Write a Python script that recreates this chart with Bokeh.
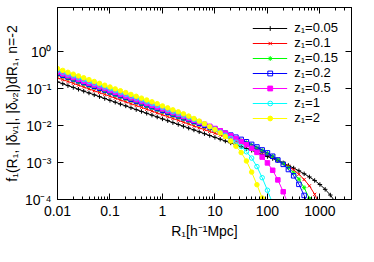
from bokeh.plotting import figure
from bokeh.models import (FixedTicker, CustomJSTickFormatter, LogAxis, Legend,
                          LegendItem, Range1d)
from bokeh.embed import file_html
from bokeh.resources import INLINE

# x grid (R1 in h^-1 Mpc)
R1 = [0.01, 0.0126, 0.0158, 0.02, 0.0251, 0.0316, 0.0398, 0.0501, 0.0631, 0.0794,
      0.1, 0.126, 0.158, 0.2, 0.251, 0.316, 0.398, 0.501, 0.631, 0.794,
      1, 1.26, 1.58, 2.0, 2.51, 3.16, 3.98, 5.01, 6.31, 7.94,
      10, 12.6, 15.8, 20.0, 25.1, 31.6, 39.8, 50.1, 63.1, 79.4,
      100, 126, 158, 200, 251, 316, 398, 501, 631, 794,
      1000, 1260, 1580, 2000]

F_Z005 = [0.151, 0.135, 0.120, 0.107, 0.0955, 0.0851, 0.0759, 0.0676, 0.0603, 0.0537,
          0.0479, 0.0427, 0.0380, 0.0339, 0.0302, 0.0269, 0.0240, 0.0214, 0.0191, 0.0170,
          0.0151, 0.0135, 0.0120, 0.0107, 0.00955, 0.00851, 0.00759, 0.00676, 0.00603, 0.00537,
          0.00479, 0.00427, 0.00380, 0.00339, 0.00302, 0.00269, 0.00240, 0.00214, 0.00186, 0.00164,
          0.00145, 0.00128, 0.00112, 0.000973, 0.000832, 0.000708, 0.000596, 0.000495, 0.000407, 0.000327,
          0.000254, 0.000188, 0.000132, 0.0000832]
F_Z01 = [0.195, 0.174, 0.155, 0.138, 0.123, 0.110, 0.0977, 0.0871, 0.0776, 0.0692,
         0.0617, 0.0550, 0.0490, 0.0437, 0.0389, 0.0347, 0.0309, 0.0275, 0.0245, 0.0219,
         0.0195, 0.0174, 0.0155, 0.0138, 0.0123, 0.0110, 0.00977, 0.00871, 0.00776, 0.00692,
         0.00617, 0.00550, 0.00490, 0.00427, 0.00378, 0.00334, 0.00295, 0.00260, 0.00226, 0.00195,
         0.00166, 0.00141, 0.00117, 0.000977, 0.000794, 0.000631, 0.000479, 0.000347, 0.000234, 0.000138,
         0.0000692]
F_Z015 = [0.234, 0.209, 0.186, 0.166, 0.148, 0.132, 0.117, 0.105, 0.0933, 0.0832,
          0.0741, 0.0661, 0.0589, 0.0525, 0.0468, 0.0417, 0.0372, 0.0331, 0.0295, 0.0263,
          0.0234, 0.0209, 0.0186, 0.0166, 0.0148, 0.0132, 0.0117, 0.0105, 0.00933, 0.00832,
          0.00741, 0.00646, 0.00571, 0.00506, 0.00447, 0.00394, 0.00343, 0.00295, 0.00251, 0.00214,
          0.00178, 0.00148, 0.00120, 0.000955, 0.000724, 0.000525, 0.000355, 0.000209, 0.000105, 0.0000479]
F_Z02 = [0.257, 0.229, 0.204, 0.182, 0.162, 0.145, 0.129, 0.115, 0.102, 0.0912,
         0.0813, 0.0724, 0.0646, 0.0575, 0.0513, 0.0457, 0.0407, 0.0363, 0.0324, 0.0288,
         0.0257, 0.0229, 0.0204, 0.0182, 0.0162, 0.0145, 0.0129, 0.0115, 0.0102, 0.00912,
         0.00794, 0.00703, 0.00622, 0.00550, 0.00484, 0.00422, 0.00363, 0.00309, 0.00263, 0.00219,
         0.00182, 0.00148, 0.00117, 0.000891, 0.000646, 0.000437, 0.000257, 0.000129, 0.0000589]
F_Z05 = [0.282, 0.251, 0.224, 0.200, 0.178, 0.158, 0.141, 0.126, 0.112, 0.100,
         0.0891, 0.0794, 0.0708, 0.0631, 0.0562, 0.0501, 0.0447, 0.0398, 0.0355, 0.0316,
         0.0282, 0.0251, 0.0224, 0.0200, 0.0178, 0.0155, 0.0138, 0.0122, 0.0108, 0.00951,
         0.00832, 0.00721, 0.00617, 0.00525, 0.00442, 0.00367, 0.00302, 0.00243, 0.00188, 0.00140,
         0.000977, 0.000617, 0.000339, 0.000162, 0.0000708]
F_Z1 = [0.309, 0.275, 0.245, 0.219, 0.195, 0.174, 0.155, 0.138, 0.123, 0.110,
        0.0977, 0.0871, 0.0776, 0.0692, 0.0617, 0.0550, 0.0490, 0.0437, 0.0389, 0.0347,
        0.0309, 0.0270, 0.0240, 0.0212, 0.0188, 0.0166, 0.0146, 0.0127, 0.0110, 0.00933,
        0.00794, 0.00661, 0.00550, 0.00447, 0.00355, 0.00269, 0.00195, 0.00132, 0.000776, 0.000389,
        0.000178, 0.0000776]
F_Z2 = [0.347, 0.309, 0.275, 0.245, 0.219, 0.195, 0.174, 0.155, 0.138, 0.123,
        0.110, 0.0977, 0.0871, 0.0776, 0.0692, 0.0617, 0.0550, 0.0490, 0.0437, 0.0389,
        0.0339, 0.0300, 0.0265, 0.0234, 0.0207, 0.0180, 0.0155, 0.0132, 0.0112, 0.00933,
        0.00776, 0.00631, 0.00501, 0.00380, 0.00275, 0.00186, 0.00110, 0.000550, 0.000251, 0.000110,
        0.0000457]

LABELS = ["z₁=0.05", "z₁=0.1", "z₁=0.15", "z₁=0.2", "z₁=0.5", "z₁=1", "z₁=2"]
VALUES = [F_Z005, F_Z01, F_Z015, F_Z02, F_Z05, F_Z1, F_Z2]
COLORS = ["#000000", "#ff0000", "#00ff00", "#0000ff", "#ff00ff", "#00ffff", "#ffff00"]
MARKERS = ["cross", "x", "asterisk", "square", "square", "circle", "circle"]
FILLED = [False, False, False, False, True, False, True]

X_TICKS = [0.01, 0.1, 1, 10, 100, 1000]
X_TICK_LABELS = ["0.01", "0.1", "1", "10", "100", "1000"]
Y_TICKS = [1e-4, 1e-3, 1e-2, 1e-1, 1]
Y_TICK_LABELS = ["10⁻⁴", "10⁻³", "10⁻²", "10⁻¹", "10⁰"]

FONT = "Liberation Sans"

p = figure(frame_width=294, frame_height=192,
           x_axis_type="log", y_axis_type="log",
           x_range=Range1d(0.01, 4000), y_range=Range1d(1e-4, 15.5),
           output_backend="svg", toolbar_location=None,
           min_border_left=48, min_border_right=16, min_border_top=7, min_border_bottom=44)
p.grid.visible = False
p.outline_line_color = "black"
p.outline_line_width = 1
p.background_fill_color = "white"

x_minor = []
for d in X_TICKS:
    for m in range(2, 10):
        x_minor.append(d * m)
xticker = FixedTicker(ticks=X_TICKS, minor_ticks=x_minor)
yticker = FixedTicker(ticks=Y_TICKS, minor_ticks=[])

JS = """
let best = 0, bd = 1e9;
for (let i = 0; i < tvals.length; i++) {
  const d = Math.abs(Math.log10(tvals[i]) - Math.log10(tick));
  if (d < bd) { bd = d; best = i; }
}
return labs[best];
"""
xfmt = CustomJSTickFormatter(args=dict(tvals=X_TICKS, labs=X_TICK_LABELS), code=JS)
yfmt = CustomJSTickFormatter(args=dict(tvals=Y_TICKS, labs=Y_TICK_LABELS), code=JS)
blank = CustomJSTickFormatter(code="return '';")

def style_axis(ax, ticker, fmt, show_labels):
    ax.ticker = ticker
    ax.major_tick_in = 6
    ax.major_tick_out = 0
    ax.minor_tick_in = 3
    ax.minor_tick_out = 0
    ax.axis_line_color = "black"
    ax.major_tick_line_color = "black"
    ax.minor_tick_line_color = "black"
    ax.major_label_text_font = FONT
    ax.major_label_text_color = "black"
    ax.axis_label_text_font = FONT
    ax.axis_label_text_font_style = "normal"
    ax.axis_label_text_color = "black"
    if show_labels:
        ax.formatter = fmt
        ax.major_label_text_font_size = "14px"
        ax.axis_label_text_font_size = "14px"
    else:
        ax.formatter = blank
        ax.major_label_text_font_size = "2px"
        ax.major_label_standoff = 0

xa = p.xaxis[0]
style_axis(xa, xticker, xfmt, True)
xa.axis_label = "R₁[h⁻¹Mpc]"
xa.major_label_standoff = 6
xa.axis_label_standoff = 4

ya = p.yaxis[0]
style_axis(ya, yticker, yfmt, True)
ya.axis_label = "f₁(R₁, |δᵥ₁|, |δᵥ₂|)dR₁, n=-2"
ya.major_label_standoff = 6
ya.axis_label_standoff = 2

top = LogAxis()
style_axis(top, xticker, None, False)
p.add_layout(top, "above")
right = LogAxis()
style_axis(right, yticker, None, False)
p.add_layout(right, "right")

items = []
for lab, vals, col, mk, filled in zip(LABELS, VALUES, COLORS, MARKERS, FILLED):
    xs = R1[:len(vals)]
    lr = p.line(xs, vals, line_color=col, line_width=1)
    sr = p.scatter(xs, vals, marker=mk, size=4.5, line_color=col, line_width=1,
                   fill_color=col if filled else None)
    items.append(LegendItem(label=lab, renderers=[lr, sr]))

legend = Legend(items=items, location="top_right")
legend.border_line_color = None
legend.background_fill_alpha = 0
legend.label_text_font = FONT
legend.label_text_font_size = "13px"
legend.label_text_color = "black"
legend.glyph_width = 35
legend.glyph_height = 12
legend.label_height = 12
legend.label_standoff = 7
legend.spacing = -2
legend.padding = 0
legend.margin = 13
p.add_layout(legend)

open("out.html", "w").write(file_html(p, INLINE))
